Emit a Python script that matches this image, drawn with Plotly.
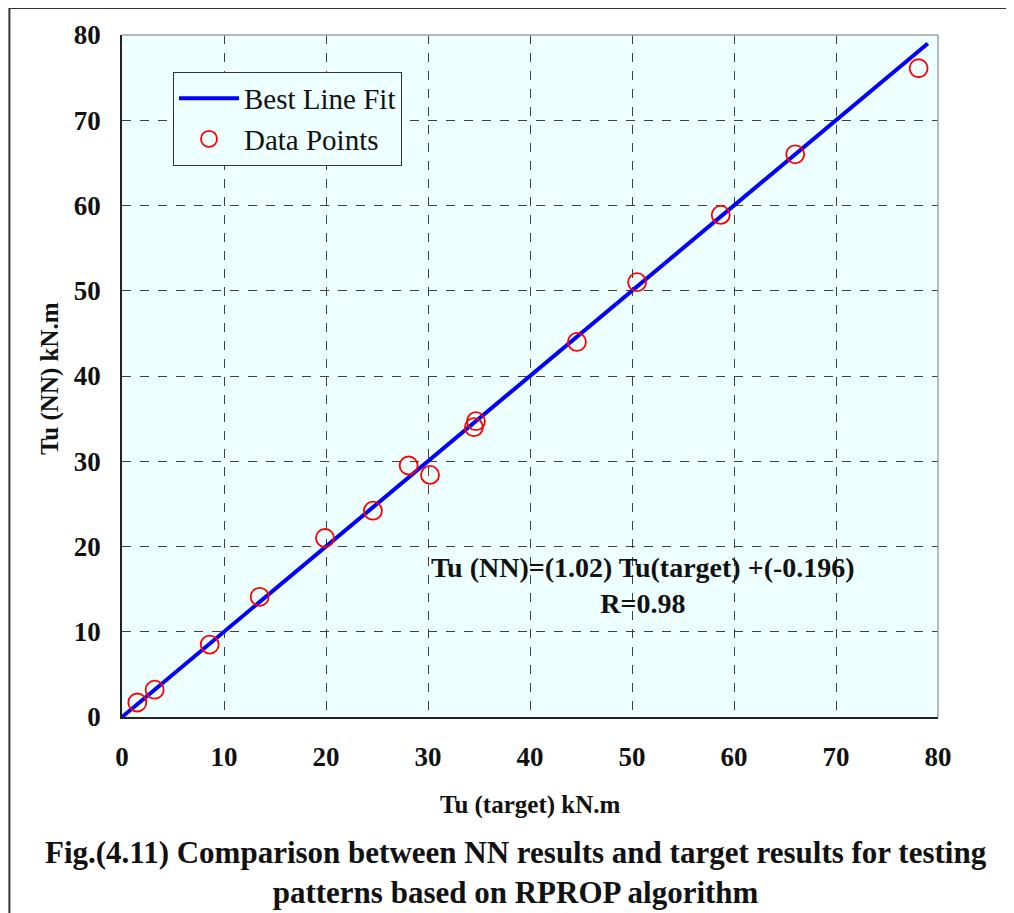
import plotly.graph_objects as go

# Data
target = [1.5, 3.2, 8.6, 13.5, 19.9, 24.6, 28.1, 30.2, 34.5, 34.7, 44.6, 50.5, 58.7, 66.0, 78.1]
nn = [1.7, 3.2, 8.5, 14.1, 21.0, 24.2, 29.5, 28.4, 34.0, 34.7, 44.0, 51.0, 58.9, 66.0, 76.1]
fit_x = [0, 79]
fit_y = [0, 79]
tick_vals = [0, 10, 20, 30, 40, 50, 60, 70, 80]

FONT = "Liberation Serif"
BG = "#EEFFFF"
INK = "#111111"

fig = go.Figure()
fig.add_trace(go.Scatter(x=fit_x, y=fit_y, mode="lines", name="Best Line Fit",
                         line=dict(color="#0000FF", width=4)))
fig.add_trace(go.Scatter(x=target, y=nn, mode="markers", name="Data Points",
                         marker=dict(symbol="circle-open", size=18, color="#FF0000",
                                     line=dict(width=1.8, color="#FF0000"))))

axis_common = dict(
    range=[0, 80], tickvals=tick_vals, showgrid=True, gridcolor="#404040",
    griddash="dash", gridwidth=1, zeroline=False, showline=True, linecolor="#222222",
    linewidth=1.5, mirror=False, ticks="",
    tickfont=dict(family=FONT, size=27, color=INK, weight="bold"),
)

fig.update_layout(
    width=1006, height=905,
    margin=dict(l=114, r=76, t=25, b=196),
    paper_bgcolor="white", plot_bgcolor=BG,
    font=dict(family=FONT, color=INK),
    xaxis=dict(**axis_common, ticklabelstandoff=15),
    yaxis=dict(**axis_common, ticklabelstandoff=14),
    legend=dict(x=0.0625, y=0.946, xanchor="left", yanchor="top",
                bgcolor=BG, bordercolor="#333333", borderwidth=1,
                font=dict(family=FONT, size=29, color=INK),
                itemwidth=60, tracegroupgap=0),
    showlegend=True,
)

# top and right frame of plot area in gray
fig.add_shape(type="line", xref="paper", yref="paper", x0=0, x1=1, y0=1, y1=1,
              line=dict(color="#A0A0A0", width=1.5))
fig.add_shape(type="line", xref="paper", yref="paper", x0=1, x1=1, y0=0, y1=1,
              line=dict(color="#A0A0A0", width=1.5))

# outer figure border (left and top)
fig.add_shape(type="line", xref="paper", yref="paper",
              x0=-0.138, x1=-0.138, y0=-0.29, y1=1.0395,
              line=dict(color="#333333", width=2))
fig.add_shape(type="line", xref="paper", yref="paper",
              x0=-0.138, x1=1.09, y0=1.0395, y1=1.0395,
              line=dict(color="#333333", width=2))

# axis titles
fig.add_annotation(x=0.5, y=-0.1287, xref="paper", yref="paper", showarrow=False,
                   xanchor="center", yanchor="middle",
                   text="<b>Tu (target) kN.m</b>",
                   font=dict(family=FONT, size=25, color=INK))
fig.add_annotation(x=-0.0882, y=0.4956, xref="paper", yref="paper", showarrow=False,
                   xanchor="center", yanchor="middle",
                   text="<b>Tu (NN) kN.m</b>", textangle=-90,
                   font=dict(family=FONT, size=25, color=INK))

# regression equation
fig.add_annotation(x=0.6385, y=0.193, xref="paper", yref="paper", showarrow=False,
                   xanchor="center", yanchor="middle",
                   text="<b>Tu (NN)=(1.02) Tu(target) +(-0.196)<br>R=0.98</b>",
                   font=dict(family=FONT, size=28, color=INK), align="center")

# figure caption
fig.add_annotation(x=0.483, y=-0.228, xref="paper", yref="paper", showarrow=False,
                   xanchor="center", yanchor="middle",
                   text="<b>Fig.(4.11) Comparison between NN results and target results for testing<br>patterns based on RPROP algorithm</b>",
                   font=dict(family=FONT, size=31, color=INK), align="center")

fig.write_html("out.html")
